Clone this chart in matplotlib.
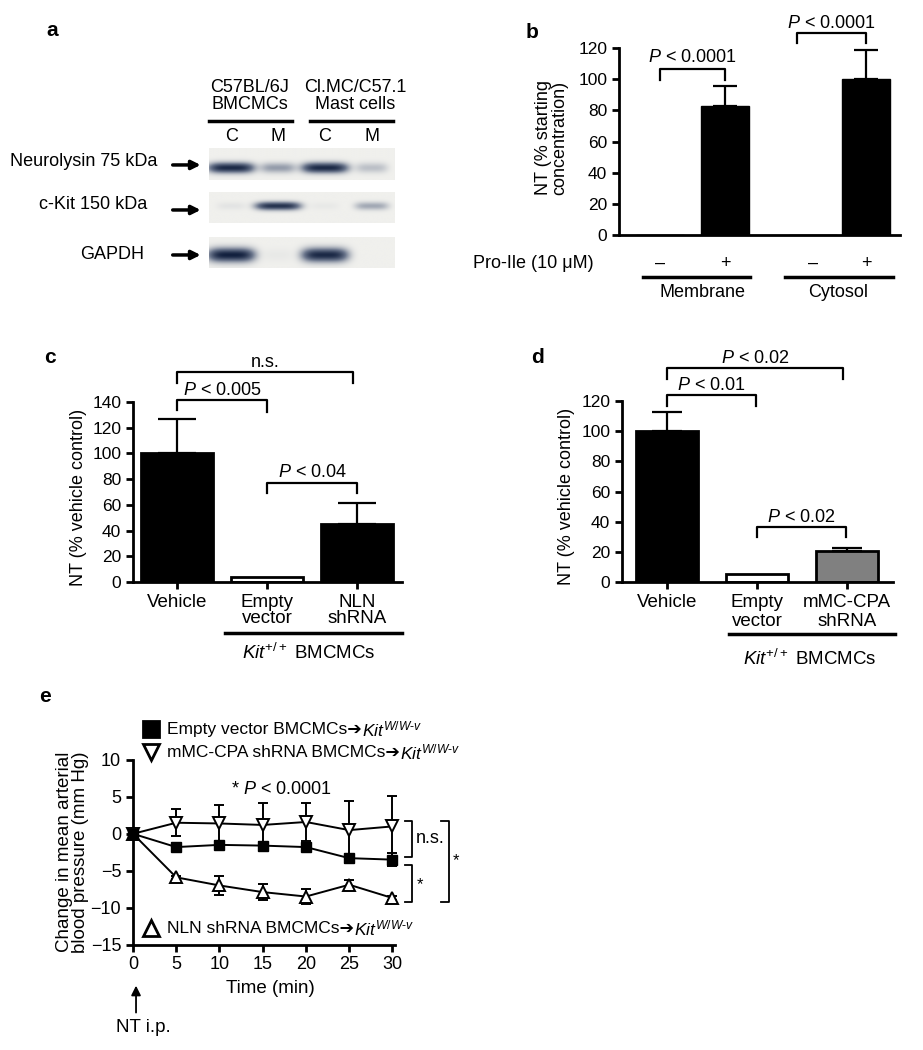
import numpy as np
import matplotlib
matplotlib.use("Agg")
import matplotlib.pyplot as plt
from matplotlib.colors import LinearSegmentedColormap

plt.rcParams["font.family"] = ["Liberation Sans", "DejaVu Sans"]
plt.rcParams["font.size"] = 13
plt.rcParams["mathtext.fontset"] = "custom"
plt.rcParams["mathtext.rm"] = "Liberation Sans"
plt.rcParams["mathtext.it"] = "Liberation Sans:italic"
plt.rcParams["mathtext.bf"] = "Liberation Sans:bold"

W, H = 923, 1050

# ---- data ----
lanes = ["C", "M", "C", "M"]
blot_groups = ["C57BL/6J\nBMCMCs", "Cl.MC/C57.1\nMast cells"]
blot_rows = ["Neurolysin 75 kDa", "c-Kit 150 kDa", "GAPDH"]
neurolysin = [0.95, 0.35, 0.95, 0.2]
ckit = [0.05, 0.9, 0.03, 0.3]
gapdh = [1.0, 0.03, 0.95, 0.0]

b_signs = ["–", "+", "–", "+"]
b_groups = ["Membrane", "Cytosol"]
b_vals = [0, 83, 0, 100]
b_err = [0, 12.5, 0, 18.5]

c_cats = ["Vehicle", "Empty\nvector", "NLN\nshRNA"]
c_vals = [100, 4, 45]
c_err = [27, 0, 16.5]

d_cats = ["Vehicle", "Empty\nvector", "mMC-CPA\nshRNA"]
d_vals = [100, 5.5, 20.5]
d_err = [12.5, 0, 2]

e_time = [0, 5, 10, 15, 20, 25, 30]
e_empty = [0, -1.8, -1.5, -1.6, -1.8, -3.3, -3.5]
e_empty_err = [0, 0.5, 0.5, 0.5, 0.5, 0.6, 0.9]
e_cpa = [0, 1.5, 1.4, 1.2, 1.6, 0.5, 1.0]
e_cpa_err = [0, 1.8, 2.5, 3.0, 2.6, 4.0, 4.1]
e_nln = [0, -5.9, -7.0, -7.9, -8.5, -6.9, -8.7]
e_nln_err = [0, 0.2, 1.3, 1.1, 1.0, 0.7, 0.3]

fig = plt.figure(figsize=(W / 100, H / 100), dpi=100)


def add_ax(left, top, right, bottom):
    # axes placed by pixel box of the reference
    return fig.add_axes([left / W, 1 - bottom / H, (right - left) / W, (bottom - top) / H])


def panel_label(x, y, s):
    fig.text(x / W, 1 - y / H, s, fontsize=15, fontweight="bold", ha="center", va="center")


def bracket(ax, x0, x1, y, d0, d1, text, ty):
    ax.plot([x0, x0, x1, x1], [y - d0, y, y, y - d1], color="k", lw=1.6, clip_on=False)
    ax.text((x0 + x1) / 2, ty, text, ha="center", va="center")


def style_axes(ax):
    for s in ["top", "right"]:
        ax.spines[s].set_visible(False)
    for s in ["left", "bottom"]:
        ax.spines[s].set_linewidth(2)
    ax.tick_params(width=2, length=5, labelsize=12.5)


# ---- panel a: western blot ----
cmap = LinearSegmentedColormap.from_list("blot", ["#f0f0ed", "#6d788e", "#12203e"])
xlo, xhi = -0.47, 3.49
strips = [(148, 180, neurolysin, 0.62, 0.16), (192, 223, ckit, 0.45, 0.13), (237, 268, gapdh, 0.58, 0.22)]
label_pos = [(-0.28, 0.59, 0.47), (-0.333, 0.61, 0.42), (-0.35, 0.42, 0.42)]
blot_axes = []
for (top, bot, intens, yc, h), name, (lx, ly, ay) in zip(strips, blot_rows, label_pos):
    ax = add_ax(209, top, 395, bot)
    xs = np.linspace(xlo, xhi, 400)
    ys = np.linspace(0, 1, 80)
    img = np.zeros((len(ys), len(xs)))
    for lane, a in enumerate(intens):
        w = 0.3 + 0.2 * a
        img += a * np.exp(-np.abs((xs - lane) / w) ** 4)[None, :] * np.exp(-((ys - yc) / h) ** 2)[:, None]
    ax.imshow(np.clip(img, 0, 1), cmap=cmap, vmin=0, vmax=1, aspect="auto",
              extent=[xlo, xhi, 1, 0], interpolation="bilinear")
    ax.set_xlim(xlo, xhi)
    ax.axis("off")
    ax.text(lx, ly, name, transform=ax.transAxes, ha="right", va="center")
    ax.annotate("", xy=(-0.03, ay), xytext=(-0.21, ay), xycoords="axes fraction",
                arrowprops=dict(arrowstyle="-|>", color="k", lw=2.5, mutation_scale=13))
    blot_axes.append(ax)

top_ax = blot_axes[0]
tr = top_ax.get_xaxis_transform()
for i, s in enumerate(lanes):
    top_ax.text(i, 1.375, s, transform=tr, ha="center", va="center")
for g, name in enumerate(blot_groups):
    x0, x1 = 2 * g, 2 * g + 1
    if g == 0:
        lo, hi, xc = x0 - 0.47, x1 + 0.3, 0.4
    else:
        lo, hi, xc = x0 - 0.32, x1 + 0.45, 2.64
    top_ax.plot([lo, hi], [1.84, 1.84], color="k", lw=2.5, transform=tr, clip_on=False)
    top_ax.text(xc, 2.62, name, transform=tr, ha="center", va="center", linespacing=0.95)
panel_label(52, 30, "a")

# ---- panel b ----
axb = add_ax(619, 48, 900, 235)
style_axes(axb)
b_pos = [0, 1, 2.35, 3.17]
axb.bar(b_pos, b_vals, width=0.74, color="k", edgecolor="k")
axb.errorbar([b_pos[i] for i in (1, 3)], [b_vals[i] for i in (1, 3)],
             yerr=[[0, 0], [b_err[i] for i in (1, 3)]], fmt="none", ecolor="k",
             elinewidth=1.6, capsize=8.6, capthick=1.6)
axb.set_xlim(-0.63, 3.69)
axb.set_ylim(0, 120)
axb.set_yticks(range(0, 121, 20))
axb.set_xticks([])
axb.set_ylabel("NT (% starting\nconcentration)", linespacing=0.95)
axb.yaxis.set_label_coords(-0.18, 0.52)
for p, s in zip(b_pos, b_signs):
    axb.text(p, -18, s, ha="center", va="center", clip_on=False)
axb.text(-1.95, -18, "Pro-Ile (10 μM)", ha="center", va="center")
for (x0, x1, xc), name in zip([(-0.26, 1.38, 0.66), (1.92, 3.58, 2.74)], b_groups):
    axb.plot([x0, x1], [-27, -27], color="k", lw=2.5, clip_on=False)
    axb.text(xc, -37, name, ha="center", va="center")
bracket(axb, 0, 1, 106.5, 7, 7, "$P$ < 0.0001", 114)
bracket(axb, 2.1, 3.17, 129.6, 6.6, 6.6, "$P$ < 0.0001", 136)
panel_label(532, 32, "b")

# ---- panel c ----
axc = add_ax(133, 402, 402, 582)
style_axes(axc)
xc = np.arange(len(c_cats))
axc.bar(xc, c_vals, width=0.8, color=["k", "w", "k"], edgecolor="k", linewidth=2)
axc.errorbar([0, 2], [c_vals[0], c_vals[2]], yerr=[[0, 0], [c_err[0], c_err[2]]], fmt="none",
             ecolor="k", elinewidth=1.6, capsize=14, capthick=1.6)
axc.set_xlim(-0.49, 2.5)
axc.set_ylim(0, 140)
axc.set_yticks(range(0, 141, 20))
axc.set_xticks(xc)
axc.set_xticklabels(c_cats, linespacing=0.9, fontsize=13.5)
axc.set_ylabel("NT (% vehicle control)")
axc.yaxis.set_label_coords(-0.171, 0.47)
bracket(axc, 0, 1, 141.5, 8, 9.5, "$P$ < 0.005", 149)
bracket(axc, 0, 1.96, 163, 8, 8, "n.s.", 171)
bracket(axc, 1, 2, 77, 8, 8, "$P$ < 0.04", 85)
axc.plot([0.53, 2.5], [-39.7, -39.7], color="k", lw=2.5, clip_on=False)
axc.text(1.46, -55, r"$\mathit{Kit}^{+/+}$ BMCMCs", ha="center", va="center", fontsize=13.5)
panel_label(50, 358, "c")

# ---- panel d ----
axd = add_ax(622, 401, 893, 582)
style_axes(axd)
xd = np.arange(len(d_cats))
axd.bar(xd, d_vals, width=0.69, color=["k", "w", "#808080"], edgecolor="k", linewidth=2)
axd.errorbar([0, 2], [d_vals[0], d_vals[2]], yerr=[[0, 0], [d_err[0], d_err[2]]], fmt="none",
             ecolor="k", elinewidth=1.6, capsize=11, capthick=1.6)
axd.set_xlim(-0.5, 2.51)
axd.set_ylim(0, 120)
axd.set_yticks(range(0, 121, 20))
axd.set_xticks(xd)
axd.set_xticklabels(d_cats, linespacing=1.15, fontsize=13.5)
axd.set_ylabel("NT (% vehicle control)")
axd.yaxis.set_label_coords(-0.173, 0.47)
bracket(axd, 0, 0.99, 124, 7, 7, "$P$ < 0.01", 130.6)
bracket(axd, 0, 1.96, 142, 7.4, 7.4, "$P$ < 0.02", 148.5)
bracket(axd, 1, 1.99, 36.5, 6.5, 6.5, "$P$ < 0.02", 43)
axd.plot([0.69, 2.53], [-34.5, -34.5], color="k", lw=2.5, clip_on=False)
axd.text(1.59, -51, r"$\mathit{Kit}^{+/+}$ BMCMCs", ha="center", va="center", fontsize=13.5)
panel_label(537, 357, "d")

# ---- panel e ----
axe = add_ax(133, 760, 395, 944.5)
style_axes(axe)
axe.tick_params(labelsize=13)
axe.errorbar(e_time, e_nln, yerr=e_nln_err, color="k", lw=1.4, elinewidth=1.4, capsize=3.5,
             capthick=1.4, marker="^", ms=8, mfc="w", mec="k", mew=1.4, clip_on=False, zorder=3)
axe.errorbar(e_time, e_cpa, yerr=e_cpa_err, color="k", lw=1.4, elinewidth=1.4, capsize=3.5,
             capthick=1.4, marker="v", ms=8, mfc="w", mec="k", mew=1.4, clip_on=False, zorder=3)
axe.errorbar(e_time, e_empty, yerr=e_empty_err, color="k", lw=1.4, elinewidth=1.4, capsize=3.5,
             capthick=1.4, marker="s", ms=7, mfc="k", mec="k", clip_on=False, zorder=4)
axe.set_xlim(0, 30.3)
axe.set_ylim(-15, 10)
axe.set_xticks(range(0, 31, 5))
axe.set_yticks(range(-15, 11, 5))
axe.set_xlabel("Time (min)", fontsize=13.5)
axe.xaxis.set_label_coords(0.523, -0.19)
axe.set_ylabel("Change in mean arterial\nblood pressure (mm Hg)", linespacing=0.95, fontsize=13.5)
axe.yaxis.set_label_coords(-0.168, 0.5)
axe.text(17.2, 6.0, "* $P$ < 0.0001", ha="center", va="center")

kit = r"$\mathit{Kit}^{\mathit{W/W}\text{-}\mathit{v}}$"
legend_rows = [("s", "k", 1.168, "Empty vector BMCMCs➔"),
               ("v", "w", 1.043, "mMC-CPA shRNA BMCMCs➔"),
               ("^", "w", 0.089, "NLN shRNA BMCMCs➔")]
for m, fc, y, label in legend_rows:
    axe.plot([0.068], [y], marker=m, ms=12, mfc=fc, mec="k", mew=2, transform=axe.transAxes,
             clip_on=False, ls="none")
    t = axe.text(0.13, y, label, transform=axe.transAxes, va="center", ha="left", fontsize=12.5)
    axe.annotate(kit, xy=(1, 0.5), xycoords=t, va="center", ha="left", fontsize=12.5)

# significance brackets on the right
axe.plot([31.5, 32.3, 32.3, 31.5], [1.76, 1.76, -3.1, -3.1], color="k", lw=1.3, clip_on=False)
axe.text(32.75, -0.7, "n.s.", ha="left", va="center")
axe.plot([31.5, 32.3, 32.3, 31.5], [-4.2, -4.2, -9.2, -9.2], color="k", lw=1.3, clip_on=False)
axe.text(33.2, -6.9, "*", ha="center", va="center", fontsize=12)
axe.plot([35.6, 36.6, 36.6, 35.6], [1.76, 1.76, -9.2, -9.2], color="k", lw=1.3, clip_on=False)
axe.text(37.4, -3.7, "*", ha="center", va="center", fontsize=12)

axe.annotate("", xy=(0.35, -20.2), xytext=(0.35, -24.6), xycoords="data", annotation_clip=False,
             arrowprops=dict(arrowstyle="-|>", color="k", lw=1.3, mutation_scale=14))
axe.text(1.2, -26.3, "NT i.p.", ha="center", va="center", fontsize=13.5, clip_on=False)
panel_label(45, 697, "e")

fig.savefig("out.png", dpi=100)
